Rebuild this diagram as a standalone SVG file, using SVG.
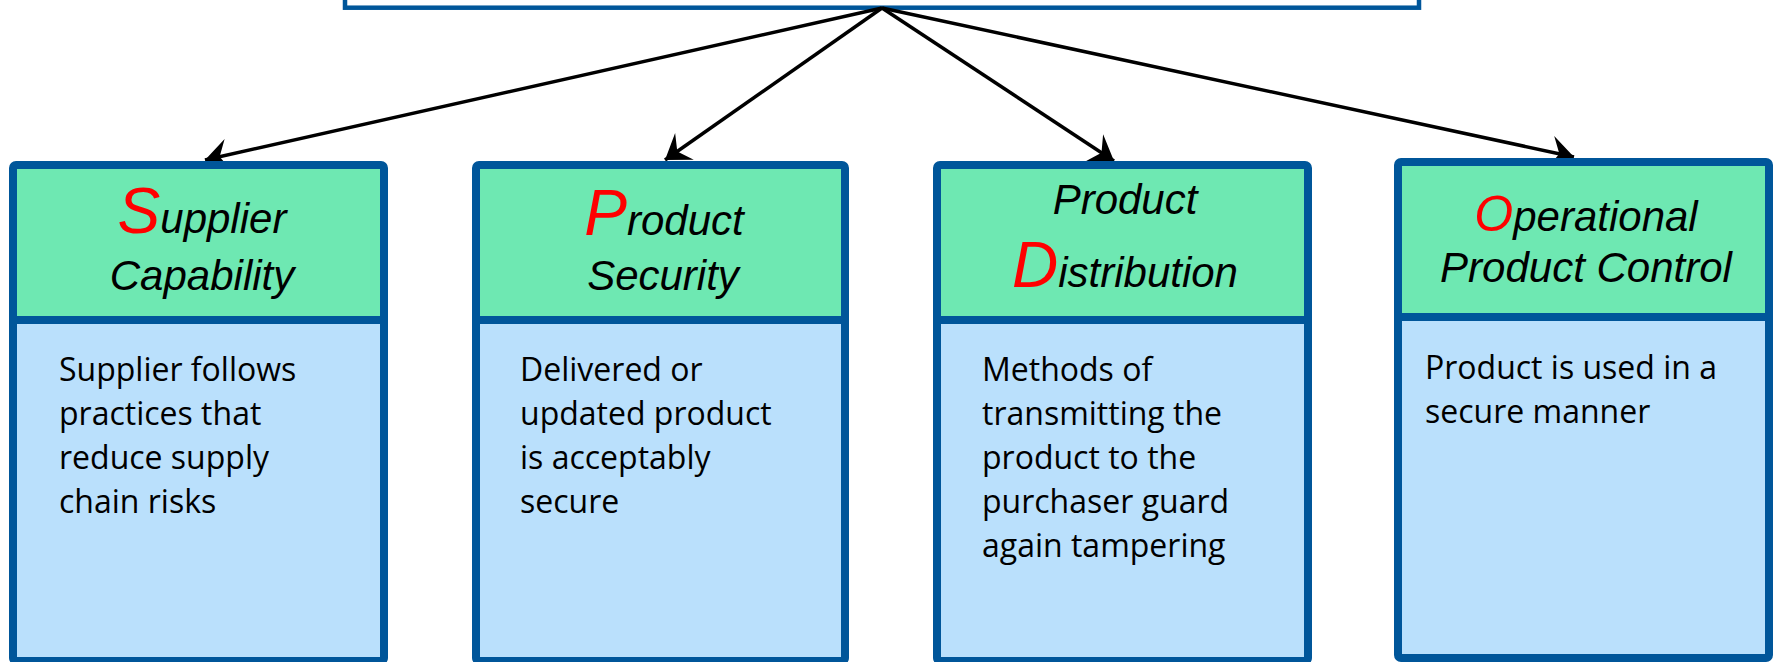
<svg xmlns="http://www.w3.org/2000/svg" width="1773" height="662" viewBox="0 0 1773 662">
<style>
.frame{fill:none;stroke:#00569A;stroke-width:8;stroke-linejoin:round}
.div{stroke:#00569A;stroke-width:8}
.hdr{fill:#6EE8B2}
.bdy{fill:#BAE0FC}
.title{font-family:"Liberation Sans",Arial,sans-serif;font-style:italic;font-size:42px;fill:#000;text-anchor:middle}
.big{font-size:64px;fill:#FF0000}
.mid{font-size:50px;fill:#FF0000}
.body{font-family:"Open Sans","Noto Sans",sans-serif;font-size:32px;fill:#000}
.conn{stroke:#000;stroke-width:3.5;fill:none;marker-end:url(#arr)}
</style>
<defs>
<marker id="arr" markerUnits="userSpaceOnUse" markerWidth="40" markerHeight="40" viewBox="-22 -16 24 32" refX="0" refY="0" orient="auto">
<path d="M0,0 L-19,-13 L-12,0 L-19,13 Z" fill="#000"/>
</marker>
</defs>
<rect width="1773" height="662" fill="#fff"/>
<g id="top">
<rect x="345" y="-10" width="1074" height="17.7" fill="#fff" stroke="#00569A" stroke-width="4.5"/>
</g>
<g id="connectors">
<line class="conn" x1="882" y1="8" x2="205" y2="160"/>
<line class="conn" x1="882" y1="8" x2="665" y2="160"/>
<line class="conn" x1="882" y1="8" x2="1114" y2="161"/>
<line class="conn" x1="882" y1="8" x2="1574" y2="157"/>
</g>
<g id="supplier">
<rect class="hdr" x="13" y="165" width="371" height="155"/>
<rect class="bdy" x="13" y="320" width="371" height="341"/>
<rect class="frame" x="13" y="165" width="371" height="496" rx="3"/>
<line class="div" x1="13" y1="320" x2="384" y2="320"/>
<text class="title" x="202" y="233"><tspan class="big">S</tspan>upplier</text>
<text class="title" x="202" y="290">Capability</text>
<text class="body" x="59" y="381">Supplier follows</text>
<text class="body" x="59" y="425">practices that</text>
<text class="body" x="59" y="469">reduce supply</text>
<text class="body" x="59" y="513">chain risks</text>
</g>
<g id="security">
<rect class="hdr" x="476" y="165" width="369" height="155"/>
<rect class="bdy" x="476" y="320" width="369" height="341"/>
<rect class="frame" x="476" y="165" width="369" height="496" rx="3"/>
<line class="div" x1="476" y1="320" x2="845" y2="320"/>
<text class="title" x="664" y="235"><tspan class="big">P</tspan>roduct</text>
<text class="title" x="663" y="290">Security</text>
<text class="body" x="520" y="381">Delivered or</text>
<text class="body" x="520" y="425">updated product</text>
<text class="body" x="520" y="469">is acceptably</text>
<text class="body" x="520" y="513">secure</text>
</g>
<g id="distribution">
<rect class="hdr" x="937" y="165" width="371" height="155"/>
<rect class="bdy" x="937" y="320" width="371" height="341"/>
<rect class="frame" x="937" y="165" width="371" height="496" rx="3"/>
<line class="div" x1="937" y1="320" x2="1308" y2="320"/>
<text class="title" x="1125" y="214">Product</text>
<text class="title" x="1125" y="287"><tspan class="big">D</tspan>istribution</text>
<text class="body" x="982" y="381">Methods of</text>
<text class="body" x="982" y="425">transmitting the</text>
<text class="body" x="982" y="469">product to the</text>
<text class="body" x="982" y="513">purchaser guard</text>
<text class="body" x="982" y="557">again tampering</text>
</g>
<g id="operational">
<rect class="hdr" x="1398" y="162" width="371" height="155"/>
<rect class="bdy" x="1398" y="317" width="371" height="341"/>
<rect class="frame" x="1398" y="162" width="371" height="496" rx="3"/>
<line class="div" x1="1398" y1="317" x2="1769" y2="317"/>
<text class="title" x="1586" y="231"><tspan class="mid">O</tspan>perational</text>
<text class="title" x="1586" y="282">Product Control</text>
<text class="body" x="1425" y="379">Product is used in a</text>
<text class="body" x="1425" y="423">secure manner</text>
</g>
</svg>
